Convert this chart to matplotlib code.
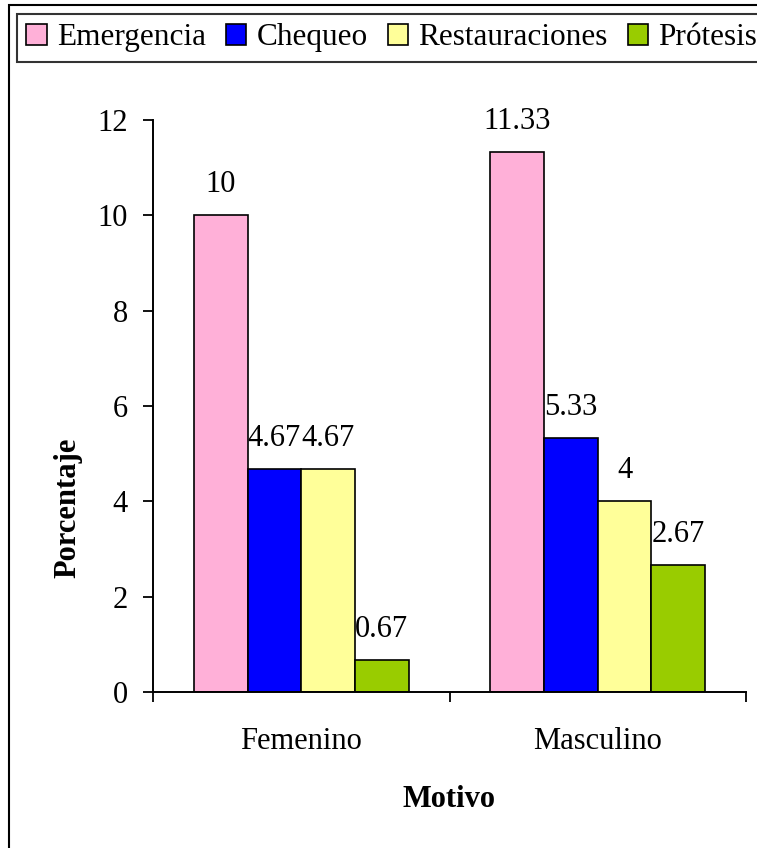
import numpy as np
import matplotlib.pyplot as plt
from matplotlib.patches import Rectangle

plt.rcParams['font.family'] = ['Liberation Serif', 'DejaVu Serif']

# datos
categorias = ['Femenino', 'Masculino']
series = ['Emergencia', 'Chequeo', 'Restauraciones', 'Prótesis']
emergencia = [10, 11.33]
chequeo = [4.67, 5.33]
restauraciones = [4.67, 4]
protesis = [0.67, 2.67]
etiquetas = [['10', '11.33'], ['4.67', '5.33'], ['4.67', '4'], ['0.67', '2.67']]
colores = ['#FFB0D8', '#0000FF', '#FFFF99', '#99CC00']

W, H = 757, 848
fig = plt.figure(figsize=(W / 100, H / 100), dpi=100)
ax = fig.add_axes([153 / W, 1 - 692 / H, (746 - 153) / W, (692 - 120) / H])

fs = 22
x = np.arange(len(categorias))
ancho = 0.181
valores = [emergencia, chequeo, restauraciones, protesis]
for i, (nombre, vals) in enumerate(zip(series, valores)):
    pos = x + (i - 1.5) * ancho
    barras = ax.bar(pos, vals, ancho, color=colores[i], edgecolor='black',
                    linewidth=1.2, label=nombre)
    for b, txt in zip(barras, etiquetas[i]):
        ax.annotate(txt, (b.get_x() + b.get_width() / 2, b.get_height()),
                    xytext=(0, 16.5), textcoords='offset points',
                    ha='center', va='baseline', fontsize=fs)

ax.set_xlim(-0.5, 1.5)
ax.set_ylim(0, 12)
ax.set_yticks(range(0, 13, 2))
ax.set_xticks([-0.5, 0.5, 1.5])
ax.set_xticklabels([])
ax.set_xticks(x, minor=True)
ax.set_xticklabels(categorias, minor=True)
ax.tick_params(axis='x', which='minor', length=0, pad=25, labelsize=fs)
ax.tick_params(axis='x', which='major', direction='out', length=7.2, width=1.3)
ax.tick_params(axis='y', direction='out', length=7.2, width=1.3, pad=11, labelsize=fs)
for s in ['top', 'right']:
    ax.spines[s].set_visible(False)
for s in ['left', 'bottom']:
    ax.spines[s].set_linewidth(1.4)

fig.text(449.5 / W, 1 - 807 / H, 'Motivo', ha='center', va='baseline',
         fontsize=fs, fontweight='bold')
fig.text(68 / W, 1 - 508 / H, 'Porcentaje', ha='center', va='center',
         rotation=90, fontsize=fs, fontweight='bold')

leg = fig.legend(loc='upper left', bbox_to_anchor=(17 / W, 1 - 14 / H),
                 ncol=4, fontsize=22.5, frameon=True, fancybox=False,
                 borderaxespad=0, handlelength=0.65, handleheight=0.65,
                 handletextpad=0.32, columnspacing=0.65, borderpad=0.3)
leg.get_frame().set_edgecolor('black')
leg.get_frame().set_linewidth(1.5)

# marco exterior
fig.patches.append(Rectangle((9 / W, -0.1), 1.2, 1.1 - 5 / H,
                             transform=fig.transFigure, fill=False,
                             edgecolor='black', linewidth=1.5))

fig.savefig('out.png', dpi=100)
